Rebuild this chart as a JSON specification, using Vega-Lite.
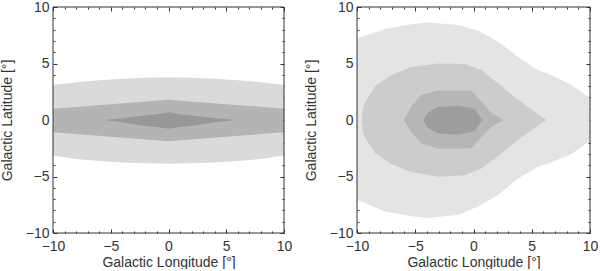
{
  "$schema": "https://vega.github.io/schema/vega-lite/v6.json",
  "padding": {"left": 0, "top": 0, "right": 0, "bottom": 0},
  "spacing": 12,
  "config": {
    "view": {"stroke": null},
    "axis": {
      "grid": false, "domain": false, "zindex": 1,
      "tickColor": "#333333", "tickWidth": 1,
      "labelFont": "Liberation Sans", "labelFontSize": 14, "labelColor": "#333333",
      "titleFont": "Liberation Sans", "titleFontSize": 14, "titleColor": "#333333", "titleFontWeight": "normal",
      "labelFlush": false, "labelOverlap": false
    }
  },
  "datasets": {
    "L1": [
      {"x": -10, "hi": 3.1, "lo": -3.15}, {"x": -8, "hi": 3.35, "lo": -3.45}, {"x": -6, "hi": 3.52, "lo": -3.62},
      {"x": -4, "hi": 3.65, "lo": -3.75}, {"x": -2, "hi": 3.74, "lo": -3.83}, {"x": 0, "hi": 3.78, "lo": -3.87},
      {"x": 2, "hi": 3.74, "lo": -3.83}, {"x": 4, "hi": 3.65, "lo": -3.75}, {"x": 6, "hi": 3.52, "lo": -3.62},
      {"x": 8, "hi": 3.35, "lo": -3.45}, {"x": 10, "hi": 3.1, "lo": -3.15}
    ],
    "L2": [
      {"x": -10, "hi": 1.0, "lo": -1.08}, {"x": -5, "hi": 1.4, "lo": -1.48}, {"x": 0, "hi": 1.8, "lo": -1.88},
      {"x": 5, "hi": 1.4, "lo": -1.48}, {"x": 10, "hi": 1.0, "lo": -1.08}
    ],
    "L3": [
      {"x": -5.6, "hi": 0, "lo": 0}, {"x": -4, "hi": 0.15, "lo": -0.2}, {"x": -2.5, "hi": 0.35, "lo": -0.47},
      {"x": -1, "hi": 0.5, "lo": -0.62}, {"x": 0, "hi": 0.7, "lo": -0.78}, {"x": 1, "hi": 0.5, "lo": -0.62},
      {"x": 2.5, "hi": 0.35, "lo": -0.47}, {"x": 4, "hi": 0.15, "lo": -0.2}, {"x": 5.8, "hi": 0, "lo": 0}
    ],
    "R1": [
      {"x": -10, "hi": 7.2, "lo": -7.1}, {"x": -9.6, "hi": 7.34, "lo": -7.22}, {"x": -7.6, "hi": 8.06, "lo": -8.1},
      {"x": -5.5, "hi": 8.45, "lo": -8.5}, {"x": -3.9, "hi": 8.62, "lo": -8.68}, {"x": -1.3, "hi": 8.4, "lo": -8.38},
      {"x": 0.4, "hi": 7.9, "lo": -7.66}, {"x": 2.1, "hi": 6.95, "lo": -6.64}, {"x": 3.8, "hi": 5.6, "lo": -5.2},
      {"x": 5.5, "hi": 4.42, "lo": -4.17}, {"x": 6.7, "hi": 3.98, "lo": -3.73}, {"x": 8.4, "hi": 3.1, "lo": -3.0},
      {"x": 10, "hi": 1.95, "lo": -1.85}
    ],
    "R2": [
      {"x": -9.6, "hi": 0, "lo": 0}, {"x": -9.5, "hi": 0.9, "lo": -0.9}, {"x": -9.34, "hi": 1.5, "lo": -1.5},
      {"x": -8.48, "hi": 2.97, "lo": -2.9}, {"x": -7.06, "hi": 3.98, "lo": -3.9}, {"x": -5.34, "hi": 4.7, "lo": -4.6},
      {"x": -3.05, "hi": 5.0, "lo": -5.02}, {"x": -0.76, "hi": 4.95, "lo": -4.9}, {"x": 0.67, "hi": 4.42, "lo": -4.3},
      {"x": 2.1, "hi": 3.26, "lo": -3.2}, {"x": 3.82, "hi": 1.8, "lo": -1.75}, {"x": 6.25, "hi": 0, "lo": 0}
    ],
    "R3": [
      {"x": -5.97, "hi": 0, "lo": 0}, {"x": -5.34, "hi": 1.22, "lo": -1.1}, {"x": -4.48, "hi": 2.24, "lo": -2.05},
      {"x": -3.05, "hi": 2.62, "lo": -2.55}, {"x": -0.19, "hi": 2.62, "lo": -2.5}, {"x": 0.53, "hi": 1.8, "lo": -1.7},
      {"x": 1.53, "hi": 0.64, "lo": -0.6}, {"x": 2.62, "hi": 0, "lo": 0}
    ],
    "R4": [
      {"x": -4.33, "hi": 0, "lo": 0}, {"x": -3.9, "hi": 0.64, "lo": -0.7}, {"x": -3.05, "hi": 1.16, "lo": -1.2},
      {"x": -1.33, "hi": 1.28, "lo": -1.3}, {"x": 0.1, "hi": 0.99, "lo": -1.0}, {"x": 0.76, "hi": 0, "lo": 0}
    ],
    "frame": [{"x": -10, "x2": 10, "y": -10, "y2": 10}]
  },
  "hconcat": [
    {
      "width": 231, "height": 226,
      "resolve": {"axis": {"x": "independent", "y": "independent"}},
      "layer": [
        {
          "data": {"name": "L1"},
          "mark": {"type": "area", "color": "#dadada", "opacity": 1},
          "encoding": {
            "x": {"field": "x", "type": "quantitative", "scale": {"domain": [-10, 10], "nice": false, "zero": false},
                  "axis": {"orient": "bottom", "values": [-10, -5, 0, 5, 10], "tickSize": -4, "labelPadding": 10, "title": "Galactic Longitude [°]", "titlePadding": 2}},
            "y": {"field": "hi", "type": "quantitative", "scale": {"domain": [-10, 10], "nice": false, "zero": false},
                  "axis": {"orient": "left", "values": [-10, -5, 0, 5, 10], "tickSize": -4, "labelPadding": 8, "title": "Galactic Latitude [°]", "titlePadding": 11}},
            "y2": {"field": "lo"}
          }
        },
        {
          "data": {"name": "L2"},
          "mark": {"type": "area", "color": "#b4b4b4", "opacity": 1},
          "encoding": {
            "x": {"field": "x", "type": "quantitative", "scale": {"domain": [-10, 10], "nice": false, "zero": false},
                  "axis": {"orient": "bottom", "values": [-9, -8, -7, -6, -4, -3, -2, -1, 1, 2, 3, 4, 6, 7, 8, 9], "tickSize": -2, "labels": false, "title": null}},
            "y": {"field": "hi", "type": "quantitative", "scale": {"domain": [-10, 10], "nice": false, "zero": false},
                  "axis": {"orient": "left", "values": [-9, -8, -7, -6, -4, -3, -2, -1, 1, 2, 3, 4, 6, 7, 8, 9], "tickSize": -2, "labels": false, "title": null}},
            "y2": {"field": "lo"}
          }
        },
        {
          "data": {"name": "L3"},
          "mark": {"type": "area", "color": "#989898", "opacity": 1},
          "encoding": {
            "x": {"field": "x", "type": "quantitative", "scale": {"domain": [-10, 10], "nice": false, "zero": false},
                  "axis": {"orient": "top", "values": [-10, -5, 0, 5, 10], "tickSize": -4, "labels": false, "title": null}},
            "y": {"field": "hi", "type": "quantitative", "scale": {"domain": [-10, 10], "nice": false, "zero": false},
                  "axis": {"orient": "right", "values": [-10, -5, 0, 5, 10], "tickSize": -4, "labels": false, "title": null}},
            "y2": {"field": "lo"}
          }
        },
        {
          "data": {"name": "frame"},
          "mark": {"type": "rect", "filled": false, "stroke": "#333333", "strokeWidth": 1},
          "encoding": {
            "x": {"field": "x", "type": "quantitative", "scale": {"domain": [-10, 10], "nice": false, "zero": false},
                  "axis": {"orient": "top", "values": [-9, -8, -7, -6, -4, -3, -2, -1, 1, 2, 3, 4, 6, 7, 8, 9], "tickSize": -2, "labels": false, "title": null}},
            "x2": {"field": "x2"},
            "y": {"field": "y", "type": "quantitative", "scale": {"domain": [-10, 10], "nice": false, "zero": false},
                  "axis": {"orient": "right", "values": [-9, -8, -7, -6, -4, -3, -2, -1, 1, 2, 3, 4, 6, 7, 8, 9], "tickSize": -2, "labels": false, "title": null}},
            "y2": {"field": "y2"}
          }
        }
      ]
    },
    {
      "width": 233, "height": 226,
      "resolve": {"axis": {"x": "independent", "y": "independent"}},
      "layer": [
        {
          "data": {"name": "R1"},
          "mark": {"type": "area", "color": "#e4e4e4", "opacity": 1},
          "encoding": {
            "x": {"field": "x", "type": "quantitative", "scale": {"domain": [-10, 10], "nice": false, "zero": false},
                  "axis": {"orient": "bottom", "values": [-10, -5, 0, 5, 10], "tickSize": -4, "labelPadding": 10, "title": "Galactic Longitude [°]", "titlePadding": 2}},
            "y": {"field": "hi", "type": "quantitative", "scale": {"domain": [-10, 10], "nice": false, "zero": false},
                  "axis": {"orient": "left", "values": [-10, -5, 0, 5, 10], "tickSize": -4, "labelPadding": 8, "title": "Galactic Latitude [°]", "titlePadding": 11}},
            "y2": {"field": "lo"}
          }
        },
        {
          "data": {"name": "R2"},
          "mark": {"type": "area", "color": "#cccccc", "opacity": 1},
          "encoding": {
            "x": {"field": "x", "type": "quantitative", "scale": {"domain": [-10, 10], "nice": false, "zero": false},
                  "axis": {"orient": "bottom", "values": [-9, -8, -7, -6, -4, -3, -2, -1, 1, 2, 3, 4, 6, 7, 8, 9], "tickSize": -2, "labels": false, "title": null}},
            "y": {"field": "hi", "type": "quantitative", "scale": {"domain": [-10, 10], "nice": false, "zero": false},
                  "axis": {"orient": "left", "values": [-9, -8, -7, -6, -4, -3, -2, -1, 1, 2, 3, 4, 6, 7, 8, 9], "tickSize": -2, "labels": false, "title": null}},
            "y2": {"field": "lo"}
          }
        },
        {
          "data": {"name": "R3"},
          "mark": {"type": "area", "color": "#b6b6b6", "opacity": 1},
          "encoding": {
            "x": {"field": "x", "type": "quantitative", "scale": {"domain": [-10, 10], "nice": false, "zero": false},
                  "axis": {"orient": "top", "values": [-10, -5, 0, 5, 10], "tickSize": -4, "labels": false, "title": null}},
            "y": {"field": "hi", "type": "quantitative", "scale": {"domain": [-10, 10], "nice": false, "zero": false},
                  "axis": {"orient": "right", "values": [-10, -5, 0, 5, 10], "tickSize": -4, "labels": false, "title": null}},
            "y2": {"field": "lo"}
          }
        },
        {
          "data": {"name": "R4"},
          "mark": {"type": "area", "color": "#9e9e9e", "opacity": 1},
          "encoding": {
            "x": {"field": "x", "type": "quantitative", "scale": {"domain": [-10, 10], "nice": false, "zero": false},
                  "axis": {"orient": "top", "values": [-9, -8, -7, -6, -4, -3, -2, -1, 1, 2, 3, 4, 6, 7, 8, 9], "tickSize": -2, "labels": false, "title": null}},
            "y": {"field": "hi", "type": "quantitative", "scale": {"domain": [-10, 10], "nice": false, "zero": false},
                  "axis": {"orient": "right", "values": [-9, -8, -7, -6, -4, -3, -2, -1, 1, 2, 3, 4, 6, 7, 8, 9], "tickSize": -2, "labels": false, "title": null}},
            "y2": {"field": "lo"}
          }
        },
        {
          "data": {"name": "frame"},
          "mark": {"type": "rect", "filled": false, "stroke": "#333333", "strokeWidth": 1},
          "encoding": {
            "x": {"field": "x", "type": "quantitative", "scale": {"domain": [-10, 10], "nice": false, "zero": false}, "axis": null},
            "x2": {"field": "x2"},
            "y": {"field": "y", "type": "quantitative", "scale": {"domain": [-10, 10], "nice": false, "zero": false}, "axis": null},
            "y2": {"field": "y2"}
          }
        }
      ]
    }
  ]
}
